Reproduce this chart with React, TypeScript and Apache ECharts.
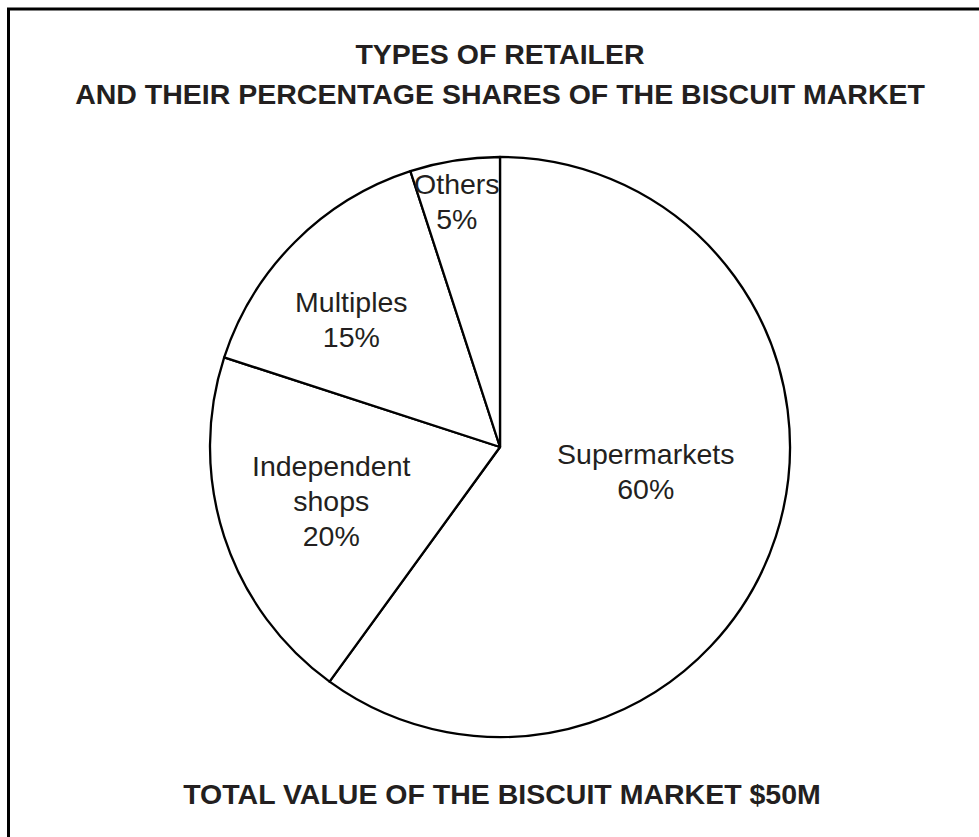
import React, { useEffect, useRef } from "react";
import * as echarts from "echarts";

const titleLines = [
  "TYPES OF RETAILER",
  "AND THEIR PERCENTAGE SHARES OF THE BISCUIT MARKET",
];
const footerText = "TOTAL VALUE OF THE BISCUIT MARKET $50M";
const categories = ["Supermarkets", "Independent shops", "Multiples", "Others"];
const shares = [60, 20, 15, 5];
// label nudges (px) relative to the default inner label position
const labelDx = [5, -28, -44, -20];
const labelDy = [-21, 8, -23, -99];

const INK = "#231f20";

export default function App() {
  const ref = useRef<HTMLDivElement>(null);
  useEffect(() => {
    if (!ref.current) return;
    const chart = echarts.init(ref.current, undefined, { renderer: "svg" });
    const data = categories.map((name, i) => ({ name, value: shares[i] }));
    chart.setOption({
      animation: false,
      backgroundColor: "#ffffff",
      graphic: [
        {
          type: "rect",
          shape: { x: 8.5, y: 9, width: 1100, height: 1000 },
          style: { fill: "none", stroke: "#000", lineWidth: 3 },
          silent: true,
        },
        {
          type: "text",
          x: 500,
          y: 54,
          style: {
            text: titleLines[0],
            font: "bold 28.5px 'Liberation Sans', Arial, sans-serif",
            fill: INK,
            textAlign: "center",
            textVerticalAlign: "middle",
          },
          silent: true,
        },
        {
          type: "text",
          x: 500,
          y: 94,
          style: {
            text: titleLines[1],
            font: "bold 28.5px 'Liberation Sans', Arial, sans-serif",
            fill: INK,
            textAlign: "center",
            textVerticalAlign: "middle",
          },
          silent: true,
        },
        {
          type: "text",
          x: 502,
          y: 794,
          style: {
            text: footerText,
            font: "bold 28.5px 'Liberation Sans', Arial, sans-serif",
            fill: INK,
            textAlign: "center",
            textVerticalAlign: "middle",
          },
          silent: true,
        },
      ],
      series: [
        {
          type: "pie",
          center: [500, 447],
          radius: [0, 290],
          startAngle: 90,
          clockwise: true,
          silent: true,
          avoidLabelOverlap: false,
          itemStyle: { color: "#ffffff", borderColor: "#000000", borderWidth: 2.3 },
          emphasis: { disabled: true },
          label: {
            show: true,
            position: "inside",
            formatter: (p: any) => p.name.replace(" ", "\n") + "\n" + p.value + "%",
            fontFamily: "'Liberation Sans', Arial, sans-serif",
            fontSize: 28.5,
            lineHeight: 35,
            color: INK,
            align: "center",
            verticalAlign: "middle",
          },
          labelLine: { show: false },
          labelLayout: (params: any) => ({
            dx: labelDx[params.dataIndex],
            dy: labelDy[params.dataIndex],
          }),
          data,
        },
      ],
    });
    return () => chart.dispose();
  }, []);
  return (
    <div
      ref={ref}
      style={{ position: "fixed", left: 0, top: 0, width: 979, height: 837 }}
    />
  );
}
